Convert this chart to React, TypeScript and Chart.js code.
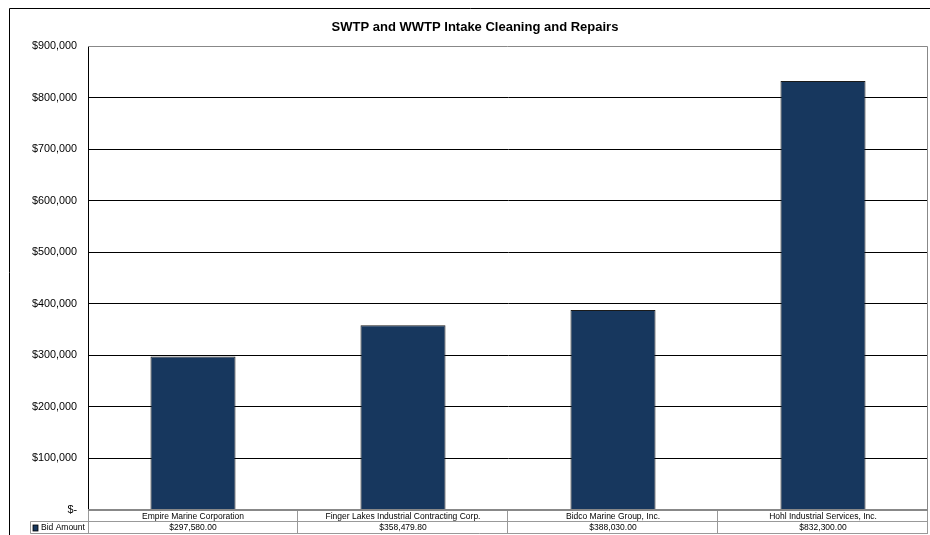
import React, { useEffect, useRef } from "react";
import { Chart, registerables } from "chart.js";

Chart.register(...registerables);

const chartTitle = "SWTP and WWTP Intake Cleaning and Repairs";
const seriesName = "Bid Amount";
const categories = [
  "Empire Marine Corporation",
  "Finger Lakes Industrial Contracting Corp.",
  "Bidco Marine Group, Inc.",
  "Hohl Industrial Services, Inc.",
];
const bidAmounts = [297580.0, 358479.8, 388030.0, 832300.0];
const yTickLabels = [
  "$-",
  "$100,000",
  "$200,000",
  "$300,000",
  "$400,000",
  "$500,000",
  "$600,000",
  "$700,000",
  "$800,000",
  "$900,000",
];

const FONT = "'Liberation Sans', Arial, sans-serif";
const BAR_COLOR = "#17375E";

const framePlugin = {
  id: "frameAndTable",
  afterDraw(chart: any) {
    const { ctx, chartArea, scales } = chart;
    const { left, right, top, bottom } = chartArea;
    const x = scales.x;
    ctx.save();

    // outer chart border
    ctx.strokeStyle = "#000";
    ctx.lineWidth = 1;
    ctx.beginPath();
    ctx.moveTo(9.5, 540);
    ctx.lineTo(9.5, 8.5);
    ctx.lineTo(935, 8.5);
    ctx.stroke();

    // title
    ctx.fillStyle = "#000";
    ctx.font = `bold 13px ${FONT}`;
    ctx.textAlign = "center";
    ctx.textBaseline = "middle";
    ctx.fillText(chartTitle, 475, 27);

    // plot top / right border
    ctx.strokeStyle = "#888";
    ctx.beginPath();
    ctx.moveTo(left, top + 0.5);
    ctx.lineTo(right - 0.5, top + 0.5);
    ctx.lineTo(right - 0.5, bottom);
    ctx.stroke();

    // data table
    const n = categories.length;
    const catW = (right - left) / n;
    const r1 = bottom;
    const r2 = bottom + 11;
    const r3 = bottom + 23;
    const legendLeft = 30.5;

    ctx.strokeStyle = "#999";
    ctx.lineWidth = 1;
    ctx.beginPath();
    ctx.moveTo(left, r2 + 0.5);
    ctx.lineTo(right, r2 + 0.5);
    ctx.moveTo(legendLeft, r2 + 0.5);
    ctx.lineTo(left, r2 + 0.5);
    ctx.moveTo(legendLeft, r3 + 0.5);
    ctx.lineTo(right, r3 + 0.5);
    ctx.moveTo(legendLeft, r2 + 0.5);
    ctx.lineTo(legendLeft, r3 + 0.5);
    for (let i = 0; i <= n; i++) {
      const cx = Math.round(left + i * catW) - 0.5 + (i === 0 ? 1 : 0);
      ctx.moveTo(cx, r1);
      ctx.lineTo(cx, r3 + 0.5);
    }
    ctx.stroke();

    // thick gray line at the zero baseline
    ctx.strokeStyle = "#888";
    ctx.lineWidth = 2;
    ctx.beginPath();
    ctx.moveTo(left, r1);
    ctx.lineTo(right, r1);
    ctx.stroke();

    ctx.fillStyle = "#000";
    ctx.font = `8.5px ${FONT}`;
    ctx.textAlign = "center";
    ctx.textBaseline = "middle";
    for (let i = 0; i < n; i++) {
      const cx = x.getPixelForValue(i);
      ctx.fillText(categories[i], cx, (r1 + r2) / 2 + 1);
      ctx.fillText(
        "$" +
          bidAmounts[i].toLocaleString("en-US", {
            minimumFractionDigits: 2,
            maximumFractionDigits: 2,
          }),
        cx,
        (r2 + r3) / 2 + 1
      );
    }

    // legend key
    ctx.fillStyle = BAR_COLOR;
    ctx.fillRect(33, r2 + 4, 5, 6);
    ctx.strokeStyle = "#000";
    ctx.lineWidth = 0.8;
    ctx.strokeRect(33, r2 + 4, 5, 6);
    ctx.fillStyle = "#000";
    ctx.textAlign = "left";
    ctx.fillText(seriesName, 41, (r2 + r3) / 2 + 1);

    ctx.restore();
  },
};

export default function App() {
  const canvasRef = useRef<HTMLCanvasElement | null>(null);

  useEffect(() => {
    if (!canvasRef.current) return;
    const chart = new Chart(canvasRef.current, {
      type: "bar",
      data: {
        labels: categories,
        datasets: [
          {
            label: seriesName,
            data: bidAmounts,
            backgroundColor: BAR_COLOR,
            borderColor: "#1a1a1a",
            borderWidth: 1,
            categoryPercentage: 1,
            barPercentage: 0.405,
          },
        ],
      },
      options: {
        responsive: false,
        animation: false,
        layout: { padding: { left: 9, right: 2, top: 46, bottom: 25 } },
        plugins: {
          legend: { display: false },
          title: { display: false },
          tooltip: { enabled: false },
        },
        scales: {
          x: {
            display: false,
            grid: { display: false },
          },
          y: {
            min: 0,
            max: 900000,
            afterFit: (s: any) => {
              s.width = 79;
            },
            ticks: {
              stepSize: 100000,
              padding: 11,
              color: "#000",
              font: { family: FONT, size: 10.8 },
              callback: (_v: any, i: number) => yTickLabels[i],
            },
            grid: {
              drawTicks: false,
              color: (c: any) =>
                c.index === 0 || c.index === yTickLabels.length - 1
                  ? "rgba(0,0,0,0)"
                  : "#000",
              lineWidth: 1,
            },
            border: { display: true, color: "#000", width: 1 },
          },
        },
      },
      plugins: [framePlugin],
    });
    return () => chart.destroy();
  }, []);

  return (
    <canvas
      ref={canvasRef}
      width={930}
      height={535}
      style={{ position: "absolute", left: 0, top: 0, width: 930, height: 535 }}
    />
  );
}
